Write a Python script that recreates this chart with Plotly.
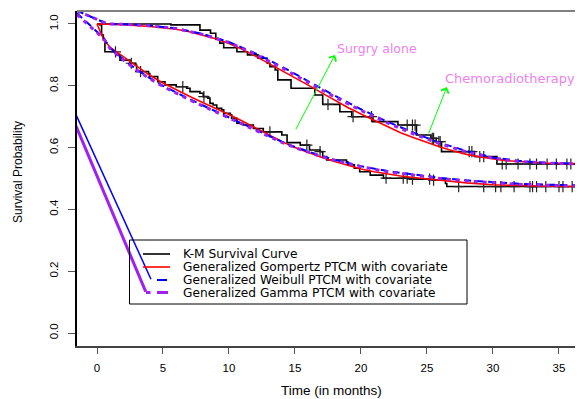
import numpy as np
import plotly.graph_objects as go

# ---------------- data ----------------
# Kaplan-Meier, Chemoradiotherapy (upper group)
km_chemo_t = [0, 5.6, 7.8, 8.6, 9.0, 9.3, 9.6, 10.6, 11.4, 12.2, 12.9, 13.1, 13.5, 13.7, 14.7,
              16.5, 17.1, 18.4, 19.3, 20.9, 22.8, 24.2, 25.3, 25.7, 26.1, 28.6, 30.3, 36.3]
km_chemo_s = [1.0, 0.997, 0.98, 0.97, 0.951, 0.938, 0.923, 0.91, 0.90, 0.889, 0.873, 0.862, 0.851, 0.819, 0.792,
              0.770, 0.740, 0.716, 0.700, 0.684, 0.673, 0.641, 0.630, 0.619, 0.587, 0.571, 0.547, 0.547]
cens_chemo_t = [17.5, 19.4, 20.8, 23.5, 23.9, 24.1, 25.4, 25.5, 25.9, 26.0, 28.2, 28.4, 29.0, 29.3,
                30.7, 31.0, 31.9, 32.8, 33.3, 34.1, 34.8, 35.6, 35.9]

# Kaplan-Meier, Surgery alone (lower group)
km_surg_t = [0, 0.23, 0.35, 0.48, 0.6, 1.5, 1.74, 2.5, 2.9, 3.0, 3.9, 4.0, 4.6, 5.15, 6.0, 6.8, 7.05, 7.8,
             8.05, 8.4, 8.56, 8.8, 9.07, 9.45, 9.6, 10.1, 10.2, 10.6, 11.1, 11.85, 12.6, 14.0, 14.4, 15.4,
             16.1, 16.9, 17.1, 17.4, 18.9, 19.0, 19.5, 19.9, 20.7, 21.7, 23.7, 25.4, 26.4, 26.5, 36.3]
km_surg_s = [1.0, 0.997, 0.964, 0.948, 0.910, 0.90, 0.883, 0.873, 0.867, 0.846, 0.84, 0.83, 0.813, 0.803, 0.797,
             0.792, 0.781, 0.776, 0.765, 0.760, 0.743, 0.738, 0.727, 0.722, 0.711, 0.706, 0.695, 0.679,
             0.673, 0.662, 0.651, 0.641, 0.616, 0.608, 0.592, 0.587, 0.571, 0.560, 0.554, 0.544, 0.533,
             0.522, 0.511, 0.501, 0.498, 0.495, 0.484, 0.474, 0.474]
cens_surg_t = [1.4, 2.6, 3.3, 6.5, 8.1, 13.1, 15.9, 16.9, 21.9, 23.2, 23.5, 23.9, 25.2, 25.5, 27.4, 29.3,
               30.2, 30.6, 31.6, 32.8, 33.0, 33.3, 34.0, 35.0, 35.3, 36.0]

# Generalized Gompertz PTCM
gomp_chemo_t = [0, 2, 4, 5, 6, 7, 8, 9, 10, 11, 12, 13, 14, 15, 16, 17, 18, 19, 20, 21, 22, 23, 24, 25,
                26, 27, 28, 29, 30, 31, 32, 33, 34, 35, 36.3]
gomp_chemo_s = [1.0, 0.998, 0.992, 0.988, 0.983, 0.975, 0.964, 0.952, 0.937, 0.918, 0.896, 0.873, 0.850,
                0.826, 0.802, 0.778, 0.754, 0.730, 0.709, 0.688, 0.668, 0.648, 0.632, 0.616, 0.602, 0.589,
                0.578, 0.570, 0.563, 0.558, 0.555, 0.552, 0.550, 0.549, 0.548]
gomp_surg_t = [0, 0.5, 1, 2, 3, 4, 5, 6, 7, 8, 9, 10, 11, 12, 13, 14, 15, 16, 17, 18, 19, 20, 21, 22, 23,
               24, 26, 28, 30, 32, 34, 36.3]
gomp_surg_s = [1.0, 0.950, 0.924, 0.893, 0.862, 0.834, 0.809, 0.787, 0.766, 0.746, 0.727, 0.707, 0.686,
               0.664, 0.641, 0.620, 0.600, 0.584, 0.569, 0.555, 0.542, 0.531, 0.522, 0.514, 0.508, 0.503,
               0.494, 0.486, 0.480, 0.477, 0.475, 0.474]

# Generalized Weibull PTCM
weib_chemo_t = [-1.52, 0.8, 2, 4, 6, 8, 10, 12, 14, 16, 18, 20, 22, 24, 26, 28, 30, 32, 34, 36.3]
weib_chemo_s = [1.043, 1.0, 0.999, 0.995, 0.986, 0.968, 0.942, 0.905, 0.862, 0.815, 0.768, 0.724, 0.684,
                0.648, 0.615, 0.589, 0.568, 0.557, 0.551, 0.548]
weib_surg_t = [-1.52, 0.5, 1, 2, 3, 4, 5, 6, 7, 8, 9, 10, 11, 12, 13, 14, 15, 16, 17, 18, 19, 20, 22, 24,
               26, 28, 30, 32, 34, 36.3]
weib_surg_s = [1.035, 0.955, 0.922, 0.885, 0.853, 0.825, 0.800, 0.778, 0.757, 0.737, 0.717, 0.698, 0.678,
               0.658, 0.638, 0.619, 0.602, 0.587, 0.573, 0.561, 0.550, 0.540, 0.524, 0.512, 0.502, 0.494,
               0.488, 0.483, 0.480, 0.478]

# Generalized Gamma PTCM
gamma_chemo_t = weib_chemo_t
gamma_chemo_s = [1.043, 1.0, 0.999, 0.994, 0.985, 0.966, 0.940, 0.902, 0.858, 0.811, 0.764, 0.720, 0.680,
                 0.644, 0.612, 0.586, 0.566, 0.555, 0.550, 0.547]
gamma_surg_t = weib_surg_t
gamma_surg_s = [1.03, 0.953, 0.920, 0.883, 0.851, 0.823, 0.798, 0.776, 0.755, 0.735, 0.715, 0.696, 0.676,
                0.656, 0.636, 0.617, 0.600, 0.585, 0.571, 0.559, 0.548, 0.538, 0.522, 0.510, 0.500, 0.492,
                0.486, 0.481, 0.478, 0.476]

# stray segments running into the legend
stray_blue_t = [-2.0, 4.09]
stray_blue_s = [0.745, 0.174]
stray_purple_t = [-2.0, 3.69]
stray_purple_s = [0.711, 0.134]

x_ticks = [0, 5, 10, 15, 20, 25, 30, 35]
y_ticks = [0.0, 0.2, 0.4, 0.6, 0.8, 1.0]

legend_labels = ["K-M Survival Curve",
                 "Generalized Gompertz PTCM with covariate",
                 "Generalized Weibull PTCM with covariate",
                 "Generalized Gamma PTCM with covariate"]

# ---------------- layout geometry ----------------
# page body has an 8px margin: size the figure so it fills the window exactly
OFF = 8
W, H = 583 - OFF, 399 - OFF
ML, MR, MT, MB = 77 - OFF, 0, 11 - OFF, 53
PW, PH = W - ML - MR, H - MT - MB
X_RANGE = [-1.515, 36.82]
Y_RANGE = [-0.042, 1.042]


def px(x):
    """reference window pixel -> paper x"""
    return (x - OFF - ML) / PW


def py(y):
    """reference window pixel -> paper y"""
    return (H - MB - (y - OFF)) / PH


def step_value(ts, ss, t):
    idx = np.searchsorted(np.array(ts), t, side="right") - 1
    return ss[max(idx, 0)]


fig = go.Figure()

RED, BLUE, PURPLE = "#FF0000", "#0000FF", "#A020F0"

# KM curves
for ts, ss in [(km_chemo_t, km_chemo_s), (km_surg_t, km_surg_s)]:
    fig.add_trace(go.Scatter(x=ts, y=ss, mode="lines", line=dict(color="black", width=1.6, shape="hv"),
                             showlegend=False, hoverinfo="skip"))
# censor marks
for ct, ts, ss in [(cens_chemo_t, km_chemo_t, km_chemo_s), (cens_surg_t, km_surg_t, km_surg_s)]:
    fig.add_trace(go.Scatter(x=ct, y=[step_value(ts, ss, t) for t in ct], mode="markers",
                             marker=dict(symbol="cross-thin", size=8, line=dict(width=1.2, color="#222")),
                             showlegend=False, hoverinfo="skip"))

# Gompertz (red)
for ts, ss in [(gomp_chemo_t, gomp_chemo_s), (gomp_surg_t, gomp_surg_s)]:
    fig.add_trace(go.Scatter(x=ts, y=ss, mode="lines", line=dict(color=RED, width=1.6),
                             showlegend=False, hoverinfo="skip"))
# Weibull (blue dashed)
for ts, ss in [(weib_chemo_t, weib_chemo_s), (weib_surg_t, weib_surg_s)]:
    fig.add_trace(go.Scatter(x=ts, y=ss, mode="lines", line=dict(color=BLUE, width=2, dash="7px,5px"),
                             showlegend=False, hoverinfo="skip"))
# Gamma (purple dotted)
for ts, ss in [(gamma_chemo_t, gamma_chemo_s), (gamma_surg_t, gamma_surg_s)]:
    fig.add_trace(go.Scatter(x=ts, y=ss, mode="lines", line=dict(color=PURPLE, width=3, dash="4px,5px"),
                             showlegend=False, hoverinfo="skip"))

# stray lines
fig.add_trace(go.Scatter(x=stray_blue_t, y=stray_blue_s, mode="lines", line=dict(color=BLUE, width=1.5),
                         showlegend=False, hoverinfo="skip"))
fig.add_trace(go.Scatter(x=stray_purple_t, y=stray_purple_s, mode="lines", line=dict(color=PURPLE, width=3),
                         showlegend=False, hoverinfo="skip"))

shapes = []
# frame line on top
shapes.append(dict(type="line", xref="paper", yref="paper", x0=0, x1=1, y0=1, y1=1,
                   line=dict(color="#808080", width=2)))
# legend box
shapes.append(dict(type="rect", xref="paper", yref="paper", x0=px(129.5), x1=px(467), y0=py(240), y1=py(304),
                   line=dict(color="black", width=1), fillcolor="rgba(0,0,0,0)"))
leg_y = [254, 267, 280, 292.5]
shapes.append(dict(type="line", xref="paper", yref="paper", x0=px(143), x1=px(170), y0=py(leg_y[0]), y1=py(leg_y[0]),
                   line=dict(color="black", width=1.6)))
shapes.append(dict(type="line", xref="paper", yref="paper", x0=px(143), x1=px(170), y0=py(leg_y[1]), y1=py(leg_y[1]),
                   line=dict(color=RED, width=1.6)))
shapes.append(dict(type="line", xref="paper", yref="paper", x0=px(157), x1=px(167), y0=py(leg_y[2]), y1=py(leg_y[2]),
                   line=dict(color=BLUE, width=2)))
for a, b in [(146, 150.5), (157, 168)]:
    shapes.append(dict(type="line", xref="paper", yref="paper", x0=px(a), x1=px(b), y0=py(leg_y[3]), y1=py(leg_y[3]),
                       line=dict(color=PURPLE, width=3)))

annotations = []
LEGFONT = dict(family="DejaVu Sans", size=12.2, color="black")
for lab, yy in zip(legend_labels, leg_y):
    annotations.append(dict(xref="paper", yref="paper", x=px(182), y=py(yy), text=lab, showarrow=False,
                            xanchor="left", yanchor="middle", borderpad=0, font=LEGFONT))

# group labels with arrows
annotations.append(dict(xref="x", yref="y", axref="x", ayref="y", x=18.03, y=0.90, ax=15.0, ay=0.654,
                        text="", showarrow=True, arrowcolor="#00FF00", arrowwidth=1, arrowhead=4,
                        arrowsize=1.6, standoff=0, startstandoff=0))
annotations.append(dict(xref="x", yref="y", axref="x", ayref="y", x=26.5, y=0.796, ax=25.08, ay=0.641,
                        text="", showarrow=True, arrowcolor="#00FF00", arrowwidth=1, arrowhead=4,
                        arrowsize=1.6, standoff=0, startstandoff=0))
annotations.append(dict(xref="x", yref="y", x=18.0, y=0.922, text="Surgry alone", showarrow=False,
                        xanchor="left", yanchor="middle",
                        font=dict(family="DejaVu Sans", size=12.5, color="#EE82EE")))
annotations.append(dict(xref="x", yref="y", x=26.2, y=0.822, text="Chemoradiotherapy", showarrow=False,
                        xanchor="left", yanchor="middle",
                        font=dict(family="DejaVu Sans", size=13, color="#EE82EE")))

# axis titles
annotations.append(dict(xref="paper", yref="paper", x=px(331.5), y=py(390), text="Time (in months)",
                        showarrow=False, xanchor="center", yanchor="middle", borderpad=0,
                        font=dict(family="Liberation Sans", size=13.5, color="black")))
annotations.append(dict(xref="paper", yref="paper", x=px(18), y=py(172), text="Survival Probability",
                        showarrow=False, xanchor="center", yanchor="middle", textangle=-90,
                        font=dict(family="Liberation Sans", size=12, color="black")))

fig.update_layout(
    width=W, height=H,
    margin=dict(l=ML, r=MR, t=MT, b=MB, pad=0),
    paper_bgcolor="white", plot_bgcolor="white",
    showlegend=False,
    shapes=shapes,
    annotations=annotations,
    xaxis=dict(range=X_RANGE, tickmode="array", tickvals=x_ticks, ticktext=[str(v) for v in x_ticks],
               showgrid=False, zeroline=False, showline=True, linecolor="#444444", linewidth=2,
               ticks="outside", ticklen=6, tickwidth=1, tickcolor="#555555",
               tickfont=dict(family="Liberation Sans", size=11.5, color="black"), ticklabelstandoff=4),
    yaxis=dict(range=Y_RANGE, tickmode="array", tickvals=y_ticks, ticktext=[f"{v:.1f}" for v in y_ticks],
               showgrid=False, zeroline=False, showline=True, linecolor="black", linewidth=1.5,
               ticks="outside", ticklen=7, tickwidth=1, tickcolor="#555555", tickangle=-90,
               tickfont=dict(family="Liberation Sans", size=11.5, color="black"), ticklabelstandoff=6),
)

fig.write_html("out.html")
